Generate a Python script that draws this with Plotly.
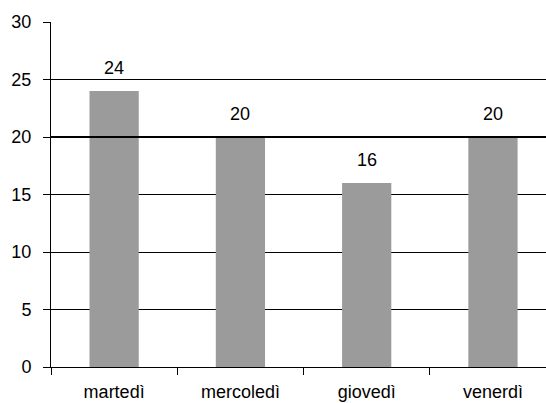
import plotly.graph_objects as go

categories = ["martedì", "mercoledì", "giovedì", "venerdì"]
values = [24, 20, 16, 20]
y_ticks = [0, 5, 10, 15, 20, 25, 30]

FONT = "Liberation Sans, Arial, Helvetica, sans-serif"

fig = go.Figure()
fig.add_trace(go.Bar(
    x=categories, y=values,
    marker=dict(color="#9b9b9b", line=dict(width=0)),
    width=0.39,
    hoverinfo="skip",
))

for c, v in zip(categories, values):
    fig.add_annotation(x=c, y=v, text=str(v), showarrow=False,
                       yanchor="bottom", yshift=11,
                       font=dict(family=FONT, size=18, color="#000"))

fig.add_shape(type="line", xref="paper", x0=0, x1=1, yref="y", y0=20, y1=20,
              line=dict(color="#000", width=2))

fig.update_layout(
    width=546, height=403,
    margin=dict(l=51, r=0, t=22, b=36),
    paper_bgcolor="white", plot_bgcolor="white",
    showlegend=False,
    font=dict(family=FONT, size=18, color="#000"),
    xaxis=dict(
        type="category", range=[-0.5, 3.42], automargin=False,
        tickson="boundaries", ticks="outside", ticklen=7, tickcolor="#000",
        showline=True, linecolor="#000", linewidth=1,
        showgrid=False, ticklabelstandoff=8,
        tickfont=dict(family=FONT, size=18, color="#000"),
    ),
    yaxis=dict(
        range=[0, 30], tickvals=y_ticks, automargin=False,
        ticks="outside", ticklen=7, tickcolor="#000",
        showline=True, linecolor="#000", linewidth=1,
        showgrid=True, gridcolor="#000", gridwidth=1,
        zeroline=False, ticklabelstandoff=8,
        tickfont=dict(family=FONT, size=18, color="#000"),
    ),
)

fig.write_html("out.html")
